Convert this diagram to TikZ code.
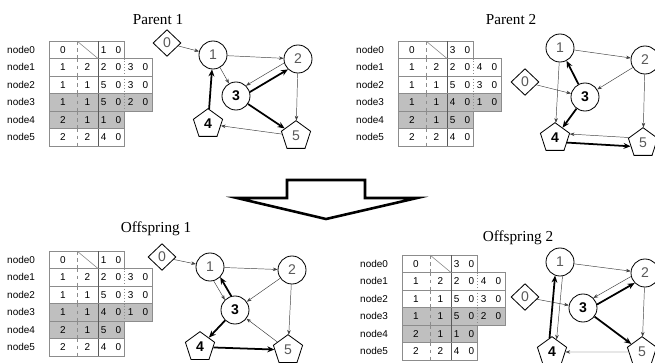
\documentclass[tikz,border=0pt]{standalone}
\usepackage{fontspec}
\setmainfont{Liberation Serif}
\setsansfont{Liberation Sans}
\usepackage{tikz}
\usetikzlibrary{arrows.meta, calc, shapes.geometric}

\newcommand{\dsep}{\hspace{8pt}}

\tikzset{
	heading/.style={font=\fontsize{13}{13}\selectfont},
	rowname/.style={anchor=west, inner sep=0pt, font=\sffamily\fontsize{8.5}{9}\selectfont},
	cell/.style={inner sep=0pt, font=\sffamily\fontsize{8.5}{9}\selectfont},
	tline/.style={draw=black!45, line width=0.5pt},
	vcirc/.style={circle, draw, line width=0.7pt, minimum size=0.84cm, inner sep=0pt, fill=white, text=black!65, font=\sffamily\fontsize{12}{12}\selectfont},
	vpent/.style={regular polygon, regular polygon sides=5, draw, line width=0.7pt, minimum size=0.92cm, inner sep=0pt, fill=white, text=black!65, font=\sffamily\fontsize{12}{12}\selectfont},
	vdiam/.style={diamond, draw, line width=0.7pt, minimum width=0.84cm, minimum height=0.8cm, inner sep=0pt, fill=white, text=black!65, font=\sffamily\fontsize{12}{12}\selectfont},
	boldlab/.style={text=black, font=\sffamily\bfseries\fontsize{12}{12}\selectfont},
	thinedge/.style={-{Stealth[length=4pt, width=3pt]}, line width=0.4pt, draw=black!75},
	thickedge/.style={-{Stealth[length=6pt, width=5pt]}, line width=1.5pt},
}

% first row of a table: the second cell is crossed out
\newcommand{\toprow}[3]{
	\draw[tline] (0,0) rectangle (75,17.5);
	\draw[tline, dashed] (28,0) -- (28,17.5);
	\draw[tline, draw=black!65] (49,0) -- (49,17.5);
	\draw[tline] (28,0) -- (49,17.5);
	\node[rowname] (#1) at (-42,8.75) {node0};
	\node[cell] (#1a) at (14,8.75) {#2};
	\node[cell] (#1c) at (62,8.75) {#3};
}

% a row with four cells
\newcommand{\longrow}[7]{
	\filldraw[tline, fill=#2] (0,{17.5*#3}) rectangle (103,{17.5*#3+17.5});
	\draw[tline, dashed] (28,{17.5*#3}) -- ++(0,17.5);
	\draw[tline, draw=black!65] (49,{17.5*#3}) -- ++(0,17.5);
	\draw[tline, dotted] (75,{17.5*#3}) -- ++(0,17.5);
	\node[rowname] (#1) at (-42,{17.5*#3+8.75}) {node#3};
	\node[cell] (#1a) at (14,{17.5*#3+8.75}) {#4};
	\node[cell] (#1b) at (38.5,{17.5*#3+8.75}) {#5};
	\node[cell] (#1c) at (62,{17.5*#3+8.75}) {#6};
	\node[cell] (#1d) at (89,{17.5*#3+8.75}) {#7};
}

% a row with three cells
\newcommand{\shortrow}[6]{
	\filldraw[tline, fill=#2] (0,{17.5*#3}) rectangle (75,{17.5*#3+17.5});
	\draw[tline, dashed] (28,{17.5*#3}) -- ++(0,17.5);
	\draw[tline, draw=black!65] (49,{17.5*#3}) -- ++(0,17.5);
	\node[rowname] (#1) at (-42,{17.5*#3+8.75}) {node#3};
	\node[cell] (#1a) at (14,{17.5*#3+8.75}) {#4};
	\node[cell] (#1b) at (38.5,{17.5*#3+8.75}) {#5};
	\node[cell] (#1c) at (62,{17.5*#3+8.75}) {#6};
}

\begin{document}
\begin{tikzpicture}[x=0.03cm, y=-0.03cm]

	\useasboundingbox (0,0) rectangle (655,362);
	\clip (0,0) rectangle (655,362);

	\node[heading] (tp1) at (158,20) {Parent 1};
	\node[heading] (tp2) at (511,20) {Parent 2};
	\node[heading] (to1) at (156,229) {Offspring 1};
	\node[heading] (to2) at (518,238) {Offspring 2};

	% tables
	\begin{scope}[shift={(49,41)}]
		\toprow{p1r0}{0}{1\dsep0}
		\longrow{p1r1}{white}{1}{1}{2}{2\dsep0}{3\dsep0}
		\longrow{p1r2}{white}{2}{1}{1}{5\dsep0}{3\dsep0}
		\longrow{p1r3}{black!25}{3}{1}{1}{5\dsep0}{2\dsep0}
		\shortrow{p1r4}{black!25}{4}{2}{1}{1\dsep0}
		\shortrow{p1r5}{white}{5}{2}{2}{4\dsep0}
	\end{scope}
	\begin{scope}[shift={(398,41)}]
		\toprow{p2r0}{0}{3\dsep0}
		\longrow{p2r1}{white}{1}{1}{2}{2\dsep0}{4\dsep0}
		\longrow{p2r2}{white}{2}{1}{1}{5\dsep0}{3\dsep0}
		\longrow{p2r3}{black!25}{3}{1}{1}{4\dsep0}{1\dsep0}
		\shortrow{p2r4}{black!25}{4}{2}{1}{5\dsep0}
		\shortrow{p2r5}{white}{5}{2}{2}{4\dsep0}
	\end{scope}
	\begin{scope}[shift={(49,251)}]
		\toprow{o1r0}{0}{1\dsep0}
		\longrow{o1r1}{white}{1}{1}{2}{2\dsep0}{3\dsep0}
		\longrow{o1r2}{white}{2}{1}{1}{5\dsep0}{3\dsep0}
		\longrow{o1r3}{black!25}{3}{1}{1}{4\dsep0}{1\dsep0}
		\shortrow{o1r4}{black!25}{4}{2}{1}{5\dsep0}
		\shortrow{o1r5}{white}{5}{2}{2}{4\dsep0}
	\end{scope}
	\begin{scope}[shift={(402,255)}]
		\toprow{o2r0}{0}{3\dsep0}
		\longrow{o2r1}{white}{1}{1}{2}{2\dsep0}{4\dsep0}
		\longrow{o2r2}{white}{2}{1}{1}{5\dsep0}{3\dsep0}
		\longrow{o2r3}{black!25}{3}{1}{1}{5\dsep0}{2\dsep0}
		\shortrow{o2r4}{black!25}{4}{2}{1}{1\dsep0}
		\shortrow{o2r5}{white}{5}{2}{2}{4\dsep0}
	\end{scope}

	% parent 1
	\node[vdiam] (p1n0) at (167,43) {0};
	\node[vcirc] (p1n1) at (213,55) {1};
	\node[vcirc] (p1n2) at (298,59) {2};
	\node[vcirc, boldlab] (p1n3) at (236,96) {3};
	\node[vpent, boldlab] (p1n4) at (208,124) {4};
	\node[vpent] (p1n5) at (296,136) {5};
	\draw[thinedge] (p1n0) -- (p1n1);
	\draw[thinedge] (p1n1) -- (p1n2);
	\draw[thinedge] (p1n1) -- (p1n3);
	\draw[thinedge] (p1n2.196) -- (p1n3.46);
	\draw[thickedge] (p1n3.16) -- (p1n2.226);
	\draw[thickedge] (p1n3) -- (p1n5);
	\draw[thinedge] (p1n2) -- (p1n5);
	\draw[thinedge] (p1n5) -- (p1n4);
	\draw[thickedge] (p1n4) -- (p1n1);

	% parent 2
	\node[vdiam] (p2n0) at (525,82) {0};
	\node[vcirc] (p2n1) at (560,48) {1};
	\node[vcirc] (p2n2) at (645,60) {2};
	\node[vcirc, boldlab] (p2n3) at (585,97) {3};
	\node[vpent, boldlab] (p2n4) at (555,138) {4};
	\node[vpent] (p2n5) at (643,143) {5};
	\draw[thinedge] (p2n1) -- (p2n2);
	\draw[thinedge] (p2n2) -- (p2n3);
	\draw[thinedge] (p2n0) -- (p2n3);
	\draw[thickedge] (p2n3) -- (p2n1);
	\draw[thinedge] (p2n1) -- (p2n4);
	\draw[thickedge] (p2n3) -- (p2n4);
	\draw[thinedge] (p2n5.159) -- (p2n4.15);
	\draw[thickedge] (p2n4.-21) -- (p2n5.195);
	\draw[thinedge] (p2n2) -- (p2n5);

	% offspring 1
	\node[vdiam] (o1n0) at (162,257) {0};
	\node[vcirc] (o1n1) at (210,267) {1};
	\node[vcirc] (o1n2) at (292,270) {2};
	\node[vcirc, boldlab] (o1n3) at (235,310) {3};
	\node[vpent, boldlab] (o1n4) at (200,347) {4};
	\node[vpent] (o1n5) at (288,350) {5};
	\draw[thinedge] (o1n0) -- (o1n1);
	\draw[thinedge] (o1n1) -- (o1n2);
	\draw[thinedge] (o1n2) -- (o1n3);
	\draw[thickedge] (o1n3.105) -- (o1n1.315);
	\draw[thinedge] (o1n1.285) -- (o1n3.135);
	\draw[thickedge] (o1n3) -- (o1n4);
	\draw[thickedge] (o1n4) -- (o1n5);
	\draw[thinedge] (o1n5) -- (o1n3);
	\draw[thinedge] (o1n2) -- (o1n5);

	% offspring 2
	\node[vdiam] (o2n0) at (525,297) {0};
	\node[vcirc] (o2n1) at (560,262) {1};
	\node[vcirc] (o2n2) at (645,273) {2};
	\node[vcirc, boldlab] (o2n3) at (583,308) {3};
	\node[vpent, boldlab] (o2n4) at (552,352) {4};
	\node[vpent] (o2n5) at (642,352) {5};
	\draw[thinedge] (o2n1) -- (o2n2);
	\draw[thinedge] (o2n2.194) -- (o2n3.44);
	\draw[thickedge] (o2n3.14) -- (o2n2.224);
	\draw[thinedge] (o2n0) -- (o2n3);
	\draw[thickedge] (o2n4.100) -- (o2n1.250);
	\draw[thinedge] (o2n1.280) -- (o2n4.70);
	\draw[thickedge] (o2n3) -- (o2n5);
	\draw[thinedge] (o2n5) -- (o2n4);
	\draw[thinedge] (o2n2) -- (o2n5);

	% hollow arrow from parents to offspring
	\draw[line width=2.2pt, fill=white] (287,198) -- (287,180) -- (365,180) -- (365,198) -- (417,198) -- (326,219) -- (237,198) -- cycle;

\end{tikzpicture}
\end{document}
